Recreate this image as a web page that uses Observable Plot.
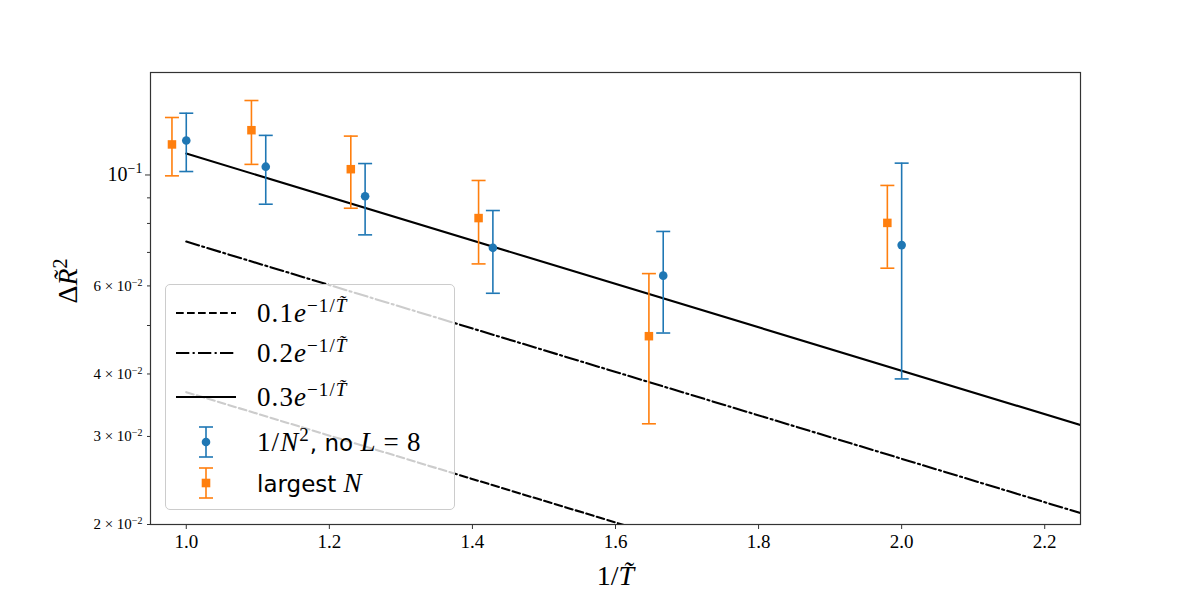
<!DOCTYPE html>
<html>
<head>
<meta charset="utf-8">
<script src="https://cdn.jsdelivr.net/npm/d3@7"></script>
<script src="https://cdn.jsdelivr.net/npm/@observablehq/plot@0.6"></script>
<style>
  body { margin: 0; background: #fff; }
  #wrap { position: relative; width: 1200px; height: 600px; }
  #legend { position: absolute; left: 165px; top: 284px; width: 290px; height: 226px;
    border: 1px solid #cccccc; border-radius: 5px; background: rgba(255,255,255,0.8); box-sizing: border-box; }
  .row { position: absolute; left: 0; height: 40px; display: flex; align-items: center; }
  .row svg { margin-left: 10px; flex: none; }
  .lbl { position: absolute; left: 91px; white-space: nowrap; font-family: "Liberation Serif", serif; font-size: 27px; color: #000; letter-spacing: 0.04em; }
  .lbl sup { font-size: 19px; vertical-align: 0; position: relative; top: -10px; }
  .lbl i { font-style: italic; }
  .sans { font-family: "DejaVu Sans", sans-serif; font-size: 23px; letter-spacing: 0; }
  .op { margin: 0 7px; }
</style>
</head>
<body>
<div id="wrap"></div>
<script>
// ---------- data ----------
const lineCoeffs = [0.1, 0.2, 0.3];
const lineDash = ["7.7 3.3", "13.3 3.3 2.1 3.3", null];
const lineX = [1.0, 2.25];

const blueX  = [1.0, 1.1111, 1.25, 1.4286, 1.6667, 2.0];
const blueY  = [0.1172, 0.1039, 0.0907, 0.0715, 0.0629, 0.0724];
const blueLo = [0.1016, 0.0874, 0.0759, 0.0580, 0.0483, 0.0391];
const blueHi = [0.1329, 0.1200, 0.1054, 0.0849, 0.0771, 0.1056];

const orangeX  = [0.98, 1.0911, 1.23, 1.4086, 1.6467, 1.98];
const orangeY  = [0.1151, 0.1229, 0.1027, 0.0820, 0.0476, 0.0802];
const orangeLo = [0.0996, 0.1050, 0.0858, 0.0664, 0.0318, 0.0651];
const orangeHi = [0.1303, 0.1409, 0.1196, 0.0975, 0.0635, 0.0953];

const xTicks = [1.0, 1.2, 1.4, 1.6, 1.8, 2.0, 2.2];
const yMajorTicks = [0.1];
const yMajorLabels = ["10^{−1}"];
const yMinorTicks = [0.02, 0.03, 0.04, 0.05, 0.06, 0.07, 0.08, 0.09];
const yMinorLabels = ["2 × 10^{−2}", "3 × 10^{−2}", "4 × 10^{−2}", "", "6 × 10^{−2}", "", "", ""];

const BLUE = "#1f77b4", ORANGE = "#ff7f0e";

// ---------- tables ----------
const blue = blueX.map((x, i) => ({x, y: blueY[i], lo: blueLo[i], hi: blueHi[i]}));
const orange = orangeX.map((x, i) => ({x, y: orangeY[i], lo: orangeLo[i], hi: orangeHi[i]}));
const lines = lineCoeffs.map((c, k) => lineX.map(x => ({x, y: c * Math.exp(-x), k})));

const capSymbol = { draw(ctx, size) { const r = Math.sqrt(size / Math.PI); ctx.moveTo(-r, 0); ctx.lineTo(r, 0); } };

function errMarks(data, color, symbol, r) {
  return [
    Plot.ruleX(data, {x: "x", y1: "lo", y2: "hi", stroke: color, strokeWidth: 1.6}),
    Plot.dot(data, {x: "x", y: "lo", symbol: capSymbol, r: 7, stroke: color, fill: "none", strokeWidth: 1.6}),
    Plot.dot(data, {x: "x", y: "hi", symbol: capSymbol, r: 7, stroke: color, fill: "none", strokeWidth: 1.6}),
    Plot.dot(data, {x: "x", y: "y", symbol, r, fill: color, stroke: "none"})
  ];
}

const chart = Plot.plot({
  width: 1200, height: 600,
  marginLeft: 150, marginRight: 120, marginTop: 72, marginBottom: 76,
  style: { fontFamily: "Liberation Serif, serif", background: "white", color: "#000" },
  x: { domain: [0.95, 2.25] },
  y: { type: "log", domain: [0.02, 0.1603] },
  marks: [
    ...lines.map((ln, k) => Plot.line(ln, {x: "x", y: "y", stroke: "black", strokeWidth: 2.1,
        strokeDasharray: lineDash[k], clip: true})),
    ...errMarks(blue, BLUE, "circle", 4.3),
    ...errMarks(orange, ORANGE, "square", 4.8),
    Plot.axisX({ticks: xTicks, tickFormat: d3.format(".1f"), tickSize: 5, tickPadding: 5, fontSize: 19, label: null, stroke: "#333"}),
    Plot.axisY({ticks: yMajorTicks, tickFormat: d => yMajorLabels[yMajorTicks.indexOf(d)], tickSize: 5, tickPadding: 3, fontSize: 20, label: null, stroke: "#333", className: "ymajor"}),
    Plot.axisY({ticks: yMinorTicks, tickFormat: d => yMinorLabels[yMinorTicks.indexOf(d)], tickSize: 3, tickPadding: 5, fontSize: 15, label: null, stroke: "#333", className: "yminor"}),
    Plot.text(["1/T̃"], {frameAnchor: "bottom", dy: 52, fontSize: 28, lineAnchor: "middle", className: "xlabel"}),
    Plot.text(["ΔR̃²"], {frameAnchor: "left", dx: -82, dy: 5, rotate: -90, fontSize: 28, lineAnchor: "middle", className: "ylabel"}),
    Plot.frame({stroke: "#333", strokeWidth: 1.2})
  ]
});

// rich text: superscripts in tick labels, italic T/R in axis titles
function supify(t, raise, scale) {
  const s = t.textContent;
  const m = s.match(/^(.*)\^\{(.*)\}$/);
  if (!m) return;
  t.textContent = "";
  const a = document.createElementNS("http://www.w3.org/2000/svg", "tspan");
  a.textContent = m[1];
  const b = document.createElementNS("http://www.w3.org/2000/svg", "tspan");
  b.textContent = m[2];
  b.setAttribute("dy", -raise);
  b.setAttribute("font-size", scale);
  t.appendChild(a); t.appendChild(b);
}
chart.querySelectorAll(".ymajor text").forEach(t => supify(t, 8, 14));
chart.querySelectorAll(".yminor text").forEach(t => supify(t, 5, 10));
chart.querySelectorAll(".xlabel text").forEach(t => {
  t.innerHTML = '<tspan>1/</tspan><tspan font-style="italic">T̃</tspan>';
});
chart.querySelectorAll(".ylabel text").forEach(t => {
  t.innerHTML = '<tspan>Δ</tspan><tspan font-style="italic">R̃</tspan><tspan dy="-10" font-size="20">2</tspan>';
});

const wrap = document.getElementById("wrap");
wrap.appendChild(chart);

// ---------- legend ----------
const legend = document.createElement("div");
legend.id = "legend";
const rowTops = [8, 48, 92, 137, 178];
function lineSample(dash) {
  return `<svg width="60" height="10"><line x1="0" x2="60" y1="5" y2="5" stroke="black" stroke-width="2.1" ${dash ? `stroke-dasharray="${dash}"` : ""}/></svg>`;
}
function errSample(color, marker) {
  return `<svg width="60" height="34"><line x1="30" x2="30" y1="2" y2="32" stroke="${color}" stroke-width="1.6"/>
    <line x1="23" x2="37" y1="2" y2="2" stroke="${color}" stroke-width="1.6"/>
    <line x1="23" x2="37" y1="32" y2="32" stroke="${color}" stroke-width="1.6"/>
    ${marker === "circle" ? `<circle cx="30" cy="17" r="4.3" fill="${color}"/>` : `<rect x="25.7" y="12.7" width="8.6" height="8.6" fill="${color}"/>`}</svg>`;
}
const expLabel = c => `${c}<i>e</i><sup>−1/<i>T̃</i></sup>`;
const rowsHTML = [
  [lineSample(lineDash[0]), expLabel("0.1")],
  [lineSample(lineDash[1]), expLabel("0.2")],
  [lineSample(lineDash[2]), expLabel("0.3")],
  [errSample(BLUE, "circle"), `1/<i>N</i><sup>2</sup><span class="sans">, no </span><i>L</i><span class="op">=</span>8`],
  [errSample(ORANGE, "square"), `<span class="sans">largest </span><i>N</i>`]
];
legend.innerHTML = rowsHTML.map((r, i) =>
  `<div class="row" style="top:${rowTops[i]}px; width:100%">${r[0]}<span class="lbl">${r[1]}</span></div>`).join("");
wrap.appendChild(legend);
</script>
</body>
</html>
